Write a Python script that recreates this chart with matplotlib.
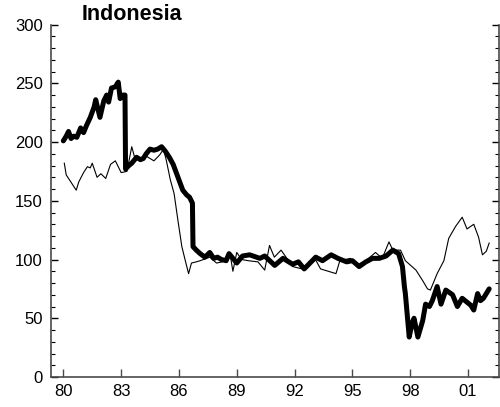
#! /usr/bin/env python3
# -*- coding: utf-8 -*-
"""Indonesia panel: two index series, 1980-2002."""
import matplotlib
matplotlib.use("Agg")
import matplotlib.pyplot as plt
from matplotlib.ticker import MultipleLocator

# Thick series (year, index)
thick_years = [
    1980.00, 1980.15, 1980.27, 1980.40, 1980.55, 1980.70, 1980.90, 1981.05,
    1981.20, 1981.40, 1981.60, 1981.68, 1981.90, 1982.10, 1982.25, 1982.35,
    1982.50, 1982.70, 1982.85, 1982.95, 1983.10, 1983.20, 1983.23, 1983.40,
    1983.55, 1983.80, 1984.00, 1984.15, 1984.30, 1984.50, 1984.70, 1984.90,
    1985.10, 1985.30, 1985.50, 1985.70, 1985.95, 1986.20, 1986.40, 1986.55,
    1986.70, 1986.73, 1986.90, 1987.10, 1987.35, 1987.60, 1987.80, 1988.00,
    1988.20, 1988.45, 1988.60, 1988.80, 1989.00, 1989.30, 1989.67, 1990.20,
    1990.45, 1990.97, 1991.40, 1991.90, 1992.20, 1992.50, 1993.10, 1993.45,
    1993.90, 1994.25, 1994.70, 1995.00, 1995.35, 1995.70, 1996.05, 1996.40,
    1996.75, 1997.10, 1997.40, 1997.60, 1997.70, 1997.75, 1997.95, 1998.10,
    1998.20, 1998.40, 1998.65, 1998.80, 1999.00, 1999.15, 1999.40, 1999.60,
    1999.85, 2000.20, 2000.45, 2000.70, 2001.15, 2001.30, 2001.50, 2001.65,
    2001.80, 2002.10,
]
thick_values = [
    201, 205, 209, 203, 205, 204, 212, 208,
    214, 221, 230, 236, 221, 235, 240, 234,
    246, 247, 251, 237, 240, 240, 177, 180,
    182, 187, 185, 186, 190, 194, 193, 194,
    196, 192, 187, 181, 170, 159, 155, 153,
    148, 111, 108, 105, 102, 106, 101, 102,
    100, 99, 105, 101, 97, 103, 104, 101,
    103, 95, 101, 96, 98, 92, 102, 99,
    104, 101, 98, 99, 94, 98, 101, 101,
    103, 108, 105, 94, 77, 71, 34, 46,
    50, 34, 48, 62, 60, 65, 77, 62,
    74, 70, 60, 67, 61, 57, 71, 65,
    67, 75,
]

# Thin series (year, index)
thin_years = [
    1980.05, 1980.15, 1980.27, 1980.67, 1980.80, 1981.05, 1981.25, 1981.40,
    1981.50, 1981.75, 1981.95, 1982.20, 1982.45, 1982.70, 1982.85, 1983.00,
    1983.30, 1983.55, 1983.70, 1984.00, 1984.30, 1984.70, 1985.00, 1985.20,
    1985.35, 1985.55, 1985.75, 1985.95, 1986.15, 1986.30, 1986.50, 1986.65,
    1986.90, 1987.10, 1987.60, 1987.95, 1988.25, 1988.50, 1988.65, 1988.80,
    1989.00, 1989.25, 1989.60, 1990.10, 1990.45, 1990.70, 1990.95, 1991.30,
    1991.90, 1992.40, 1993.05, 1993.35, 1994.15, 1994.35, 1994.90, 1995.20,
    1995.70, 1996.20, 1996.55, 1996.90, 1997.10, 1997.50, 1997.75, 1998.30,
    1998.65, 1998.90, 1999.05, 1999.40, 1999.75, 2000.00, 2000.35, 2000.70,
    2000.95, 2001.30, 2001.55, 2001.75, 2001.95, 2002.10,
]
thin_values = [
    182, 172, 169, 159, 166, 174, 179, 178,
    182, 170, 173, 169, 181, 184, 179, 174,
    175, 196, 187, 186, 188, 184, 189, 194,
    184, 168, 156, 133, 111, 101, 88, 97,
    98, 99, 102, 97, 98, 103, 105, 90,
    106, 100, 99, 98, 91, 112, 102, 108,
    94, 92, 101, 92, 88, 99, 101, 95,
    99, 106, 101, 115, 108, 108, 99, 91,
    82, 75, 74, 88, 99, 118, 128, 136,
    126, 130, 119, 104, 107, 114,
]

# Axis ticks
x_ticks = [1980, 1983, 1986, 1989, 1992, 1995, 1998, 2001]
x_labels = ["80", "83", "86", "89", "92", "95", "98", "01"]
y_ticks = [0, 50, 100, 150, 200, 250, 300]

TITLE = "Indonesia"
FONT = "Liberation Sans"
SPINE_COLOR = "#4a4a4a"


def main():
    plt.rcParams["font.family"] = [FONT, "DejaVu Sans"]
    fig = plt.figure(figsize=(5.0, 4.07), dpi=100)
    ax = fig.add_axes([0.102, 0.0737, 0.896, 0.866])

    ax.plot(thin_years, thin_values, color="black", linewidth=0.8,
            solid_joinstyle="round")
    ax.plot(thick_years, thick_values, color="black", linewidth=3.6,
            solid_joinstyle="round", solid_capstyle="round")

    ax.set_xlim(1979.36, 2002.61)
    ax.set_ylim(0, 300)
    ax.set_xticks(x_ticks)
    ax.set_xticklabels(x_labels)
    ax.set_yticks(y_ticks)
    ax.yaxis.set_minor_locator(MultipleLocator(10))

    ax.tick_params(axis="x", direction="in", length=6, width=1,
                   color=SPINE_COLOR, labelsize=12, pad=5)
    ax.tick_params(axis="y", which="major", direction="in", length=5,
                   width=1, color="black", labelsize=12, pad=6,
                   right=True)
    ax.tick_params(axis="y", which="minor", direction="in", length=3,
                   width=0.8, color="black", right=True)

    ax.spines["top"].set_visible(False)
    for side in ("left", "bottom", "right"):
        ax.spines[side].set_color(SPINE_COLOR)
        ax.spines[side].set_linewidth(1.2)

    fig.text(82 / 500, 1 - 14.5 / 407, TITLE, fontsize=15.5,
             fontweight="bold", ha="left", va="center")

    fig.savefig("out.png", dpi=100)
    plt.close(fig)


if __name__ == "__main__":
    main()
